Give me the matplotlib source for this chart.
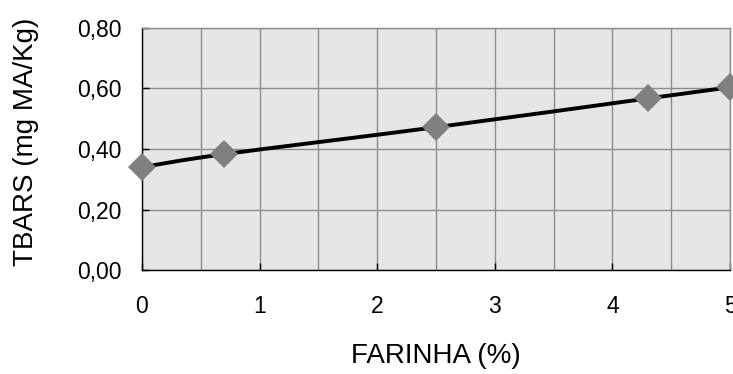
import numpy as np
import matplotlib
matplotlib.use("Agg")
import matplotlib.pyplot as plt
from matplotlib.path import Path
from matplotlib.patches import PathPatch
from matplotlib.ticker import FuncFormatter, MultipleLocator

plt.rcParams['font.family'] = ['Liberation Sans', 'DejaVu Sans']

# farinha added (%) vs TBARS
farinha = [0.0, 0.7, 2.5, 4.3, 5.0]
tbars = [0.34, 0.383, 0.472, 0.567, 0.604]


def smooth_path(x, y, t=1/6):
    # catmull-rom style bezier through the points, like a spreadsheet "smoothed line"
    x = np.asarray(x, float)
    y = np.asarray(y, float)
    n = len(x)
    verts = [(x[0], y[0])]
    codes = [Path.MOVETO]
    for i in range(n - 1):
        i0 = max(i - 1, 0)
        i3 = min(i + 2, n - 1)
        c1 = (x[i] + (x[i + 1] - x[i0]) * t, y[i] + (y[i + 1] - y[i0]) * t)
        c2 = (x[i + 1] - (x[i3] - x[i]) * t, y[i + 1] - (y[i3] - y[i]) * t)
        verts += [c1, c2, (x[i + 1], y[i + 1])]
        codes += [Path.CURVE4] * 3
    return Path(verts, codes)


fig = plt.figure(figsize=(7.33, 3.74), dpi=100)
ax = fig.add_axes([142/733, 104/374, 588/733, 242/374])
ax.set_facecolor('#e6e6e6')

ax.set_xlim(0, 5)
ax.set_ylim(0, 0.8)
ax.xaxis.set_major_locator(MultipleLocator(1))
ax.xaxis.set_minor_locator(MultipleLocator(0.5))
ax.yaxis.set_major_locator(MultipleLocator(0.2))
ax.yaxis.set_major_formatter(FuncFormatter(lambda v, p: f"{v:.2f}".replace('.', ',')))

ax.grid(which='both', axis='x', color='#8c8c8c', linewidth=1.0)
ax.grid(which='major', axis='y', color='#8c8c8c', linewidth=1.0)
ax.set_axisbelow(True)

for side in ['top', 'right']:
    ax.spines[side].set_color('#8c8c8c')
    ax.spines[side].set_linewidth(1.0)
for side in ['left', 'bottom']:
    ax.spines[side].set_color('black')
    ax.spines[side].set_linewidth(1.0)

ax.tick_params(axis='both', which='major', direction='in', length=5, width=1,
               labelsize=16.5, colors='black')
ax.tick_params(axis='x', which='minor', length=0)
ax.tick_params(axis='x', pad=18)
ax.tick_params(axis='y', pad=15)

ax.add_patch(PathPatch(smooth_path(farinha, tbars), facecolor='none',
                       edgecolor='black', linewidth=2.8, zorder=3,
                       capstyle='round'))
ax.plot(farinha, tbars, linestyle='none', marker='D', markersize=14,
        color='#808080', markeredgewidth=0, zorder=4, clip_on=False)

ax.set_xlabel('FARINHA (%)', fontsize=20)
ax.set_ylabel('TBARS (mg MA/Kg)', fontsize=20)
ax.xaxis.set_label_coords(0.5, -0.30)
ax.yaxis.set_label_coords(-0.175, 0.529)

fig.savefig('out.png', dpi=100)
